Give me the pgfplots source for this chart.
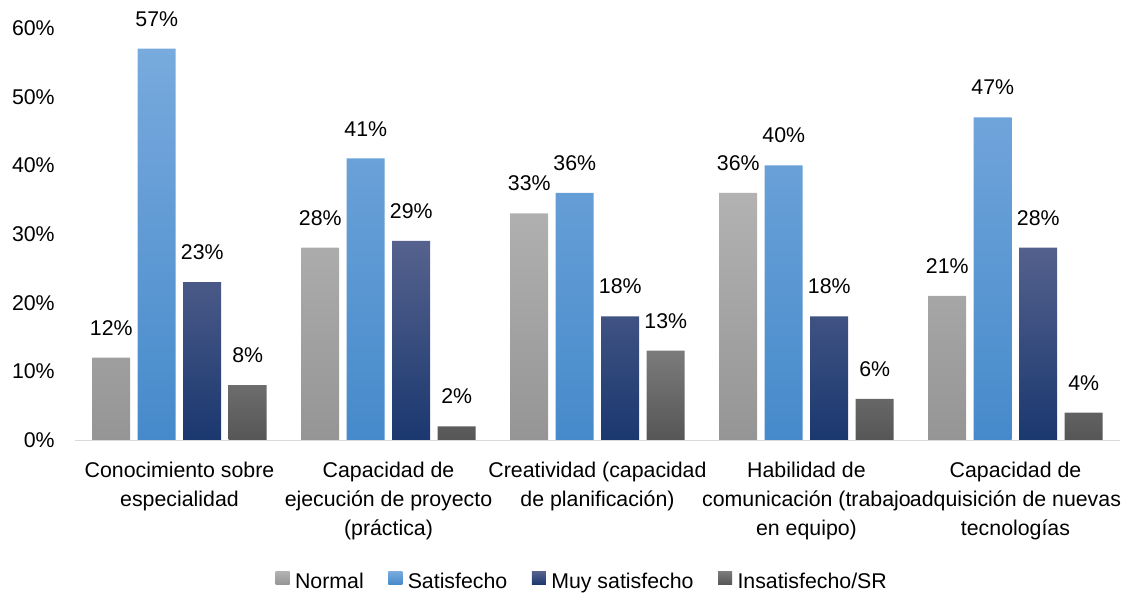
\documentclass[border=0pt]{standalone}
\usepackage{fontspec}
\setmainfont{Liberation Sans}
\usepackage{pgfplots}
\pgfplotsset{compat=1.18}

\definecolor{grisA}{HTML}{B2B2B2}
\definecolor{grisB}{HTML}{959595}
\definecolor{azulA}{HTML}{78AADD}
\definecolor{azulB}{HTML}{468ACB}
\definecolor{navyA}{HTML}{56628E}
\definecolor{navyB}{HTML}{1A386F}
\definecolor{oscA}{HTML}{7B7B7B}
\definecolor{oscB}{HTML}{565656}

\begin{document}
\fontsize{21.4}{25}\selectfont
\begin{tikzpicture}
\useasboundingbox (0bp,0bp) rectangle (1132bp,595bp);
\begin{axis}[
  at={(75bp,155bp)}, anchor=south west,
  scale only axis,
  width=1045bp, height=412bp,
  ybar=7.5bp, bar width=38bp,
  ymin=0, ymax=60,
  xmin=-0.5, xmax=4.5,
  ytick={0,10,...,60},
  yticklabel={\pgfmathprintnumber{\tick}\%},
  xtick=data,
  xticklabels={Conocimiento sobre\\especialidad,
    Capacidad de\\ejecución de proyecto\\(práctica),
    Creatividad (capacidad\\de planificación),
    Habilidad de\\comunicación (trabajo\\en equipo),
    Capacidad de\\adquisición de nuevas\\tecnologías},
  xticklabel style={align=center, yshift=-15bp, font=\fontsize{21.4}{29}\selectfont},
  yticklabel style={xshift=-13bp},
  /pgf/number format/assume math mode=true,
  axis x line*=bottom, axis y line*=left,
  x axis line style={draw=black!15, line width=1pt},
  y axis line style={draw=none},
  major tick length=0pt,
  tick style={draw=none},
  nodes near coords={\pgfmathprintnumber{\pgfplotspointmeta}\%},
  every node near coord/.append style={text=black, yshift=15bp},
  legend style={at={(0.4856,-0.346)}, anchor=center, draw=none, inner sep=0pt,
    nodes={inner sep=2.5bp}, font=\fontsize{21.4}{25}\selectfont,
    legend columns=4,
    /tikz/every odd column/.append style={column sep=3bp},
    /tikz/every even column/.append style={column sep=22bp}},
  legend image code/.code={\path[#1] (0bp,-2bp) rectangle (14bp,11bp);},
]
\addplot[draw=none, top color=grisA, bottom color=grisB] coordinates {(0,12) (1,28) (2,33) (3,36) (4,21)};
\addplot[draw=none, top color=azulA, bottom color=azulB] coordinates {(0,57) (1,41) (2,36) (3,40) (4,47)};
\addplot[draw=none, top color=navyA, bottom color=navyB] coordinates {(0,23) (1,29) (2,18) (3,18) (4,28)};
\addplot[draw=none, top color=oscA, bottom color=oscB] coordinates {(0,8) (1,2) (2,13) (3,6) (4,4)};
\legend{Normal, Satisfecho, Muy satisfecho, Insatisfecho/SR}
\end{axis}
\end{tikzpicture}
\end{document}
